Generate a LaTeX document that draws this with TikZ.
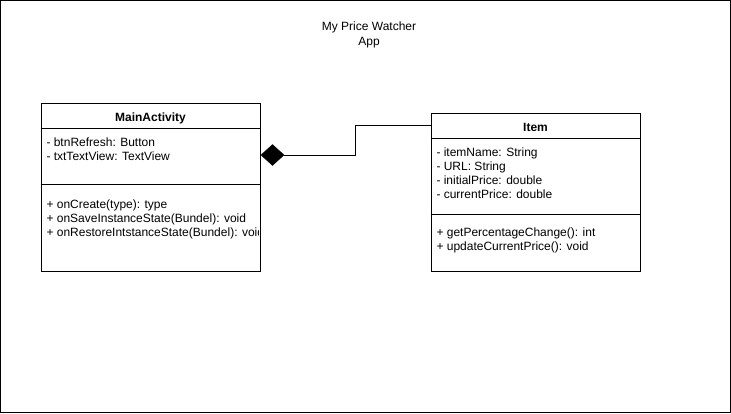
\documentclass[tikz,border=0pt]{standalone}
\usepackage{fontspec}
\setmainfont{Liberation Sans}
\usetikzlibrary{shapes.geometric}
\begin{document}
\begin{tikzpicture}[x=1pt,y=-1pt,line width=1pt,
  txt/.style={anchor=base west,inner sep=0pt,font=\fontsize{12}{14}\selectfont},
  ttl/.style={anchor=base,inner sep=0pt,font=\fontsize{12}{14}\selectfont\bfseries},
  umlbox/.style={draw,rectangle,inner sep=0pt,fill=white},
  comp/.style={diamond,fill=black,draw=black,line width=0.5pt,inner sep=0pt,minimum width=23pt,minimum height=21pt}]
\useasboundingbox (0,0) rectangle (731,413);
\node[draw,rectangle,inner sep=0pt,minimum width=730pt,minimum height=412pt] (frame) at (365.5,206.5) {};
% title
\node[anchor=base,inner sep=0pt,font=\fontsize{12}{14}\selectfont] (t1) at (369,30) {My Price Watcher};
\node[anchor=base,inner sep=0pt,font=\fontsize{12}{14}\selectfont] (t2) at (369,45) {App};
% MainActivity
\node[umlbox,minimum width=219pt,minimum height=168pt] (ma) at (150.5,187) {};
\draw ([yshift=-26pt]ma.north west) -- ([yshift=-26pt]ma.north east);
\draw ([yshift=-82pt]ma.north west) -- ([yshift=-82pt]ma.north east);
\node[ttl] (maT) at (150.5,121) {MainActivity};
\node[txt] (ma1) at (46,146) {- btnRefresh: Button};
\node[txt] (ma2) at (46,160) {- txtTextView: TextView};
\begin{scope}
\clip (42,186) rectangle (258,270);
\node[txt] (ma3) at (46,208) {+ onCreate(type): type};
\node[txt] (ma4) at (46,222) {+ onSaveInstanceState(Bundel): void};
\node[txt] (ma5) at (46,236) {+ onRestoreIntstanceState(Bundel): void};
\end{scope}
% Item
\node[umlbox,minimum width=209pt,minimum height=158pt] (it) at (535.5,192) {};
\draw ([yshift=-26pt]it.north west) -- ([yshift=-26pt]it.north east);
\draw ([yshift=-102pt]it.north west) -- ([yshift=-102pt]it.north east);
\node[ttl] (itT) at (535.5,131) {Item};
\node[txt] (it1) at (436,156) {- itemName: String};
\node[txt] (it2) at (436,170) {- URL: String};
\node[txt] (it3) at (436,184) {- initialPrice: double};
\node[txt] (it4) at (436,198) {- currentPrice: double};
\node[txt] (it5) at (436,236) {+ getPercentageChange(): int};
\node[txt] (it6) at (436,250) {+ updateCurrentPrice(): void};
% composition
\node[comp] (dia) at (272.5,155) {};
\coordinate (itIn) at ([yshift=-13pt]it.north west);
\draw (dia.east) -- (355,155) |- (itIn);
\end{tikzpicture}
\end{document}
